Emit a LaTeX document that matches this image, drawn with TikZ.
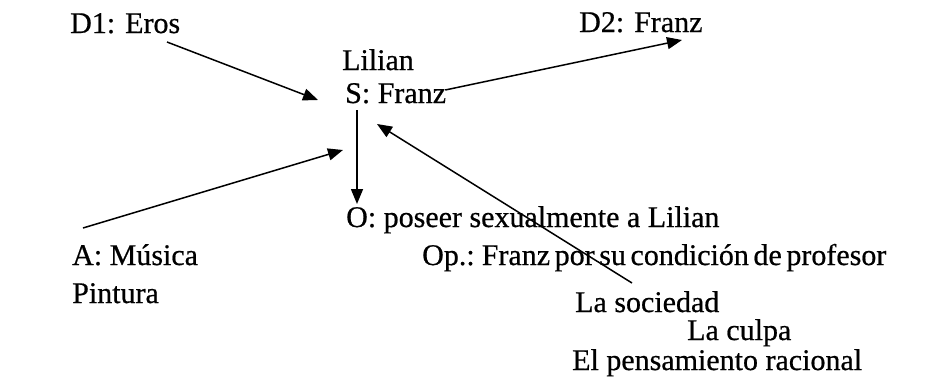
\documentclass[tikz,border=0pt]{standalone}
\usepackage{fontspec}
\setmainfont{Liberation Serif}[FakeBold=0.6]
\usetikzlibrary{arrows.meta,calc}
\newlength{\tightsp}
\setlength{\tightsp}{4.6bp}
\begin{document}
\begin{tikzpicture}[x=1bp,y=-1bp,
  lbl/.style={anchor=base west,inner sep=0pt,font=\fontsize{30bp}{36bp}\selectfont},
  conn/.style={line width=1.5bp,-{Triangle[length=15bp,width=12bp]}}]
\useasboundingbox[fill=white] (0,0) rectangle (948,385);
\node[lbl] (d1) at (70,33) {D1: Eros};
\node[lbl] (d2) at (579,32) {D2: Franz};
\node[lbl] (lil) at (342,70) {Lilian};
\node[lbl] (s) at (345,103) {S: Franz};
\node[lbl] (o) at (346,227) {O: poseer sexualmente a Lilian};
\node[lbl] (a) at (72,265) {A: Música};
\node[lbl] (pin) at (72,303) {Pintura};
\node[lbl] (op) at (422,265) {\spaceskip=\tightsp\relax Op.: Franz por su condición de profesor};
\node[lbl] (soc) at (575,312) {La sociedad};
\node[lbl] (cul) at (687,340) {La culpa};
\node[lbl] (pen) at (572,370) {El pensamiento racional};
\draw[conn] ($(d1.base west)+(97,9)$) -- ($(s.base west)+(-27,-3)$);
\draw[conn] ($(s.base east)+(-1,-13)$) -- ($(d2.base west)+(103,8)$);
\draw[conn] ($(s.base west)+(12,7)$) -- ($(o.base west)+(11,-23)$);
\draw[conn] ($(a.base west)+(11,-37)$) -- ($(s.base west)+(-2,47)$);
\draw[conn] ($(soc.base west)+(57,-29)$) -- ($(s.base west)+(32,21)$);
\end{tikzpicture}
\end{document}
